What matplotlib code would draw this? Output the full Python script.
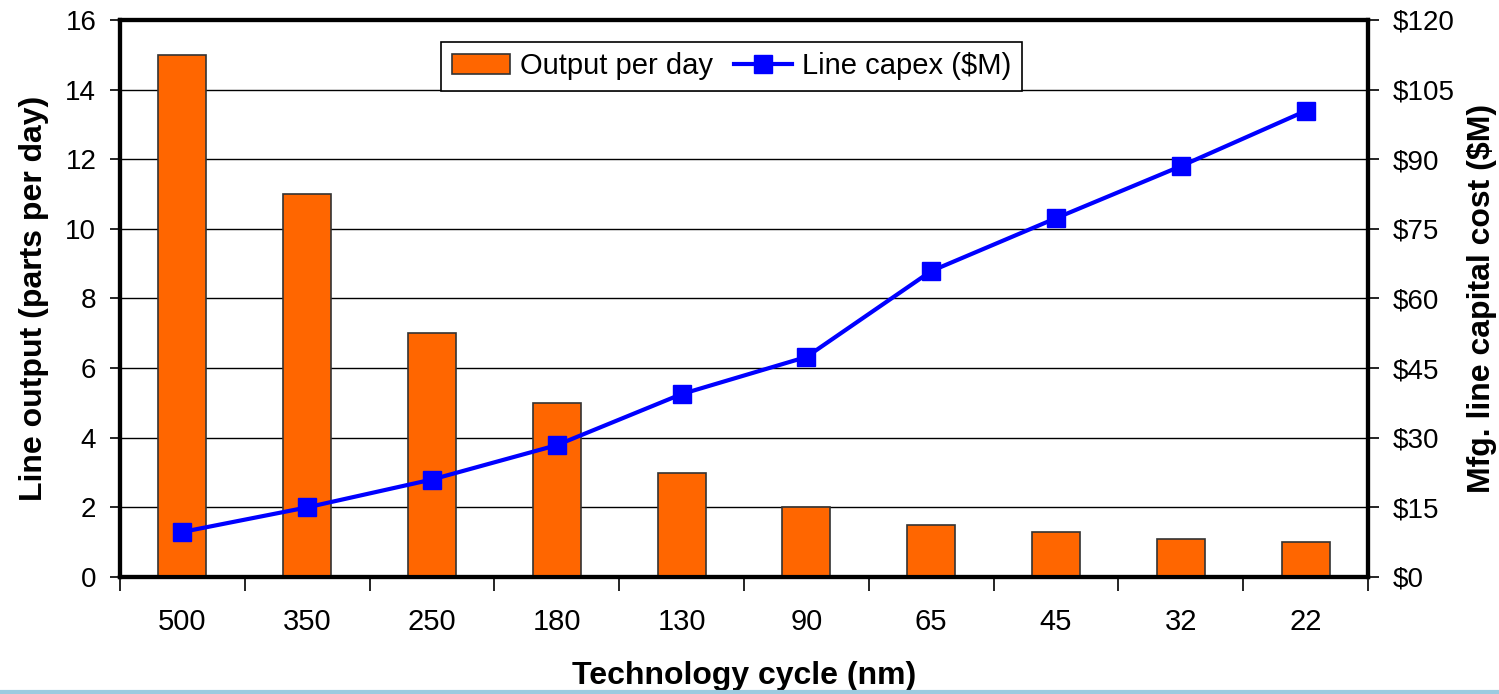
import matplotlib.pyplot as plt
from matplotlib.lines import Line2D
import numpy as np

plt.rcParams['font.family'] = ['Liberation Sans', 'DejaVu Sans']

# node sizes, parts per day, and line capital cost in $M
nodes = ['500', '350', '250', '180', '130', '90', '65', '45', '32', '22']
output_per_day = [15, 11, 7, 5, 3, 2, 1.5, 1.3, 1.1, 1.0]
line_capex = [9.7, 15, 21, 28.4, 39.4, 47.4, 65.9, 77.3, 88.5, 100.4]

x = np.arange(len(nodes))

fig = plt.figure(figsize=(14.99, 6.94), dpi=100)
ax = fig.add_axes([0.080, 0.1686, 0.8326, 0.8026])
ax2 = ax.twinx()

bars = ax.bar(x, output_per_day, width=0.385, color='#FF6600',
              edgecolor='#333333', linewidth=1.2, zorder=3, label='Output per day')
line, = ax2.plot(x, line_capex, color='#0000FF', lw=3, marker='s', markersize=13,
                 label='Line capex ($M)', zorder=4)

ax.set_xlim(-0.5, len(nodes) - 0.5)
ax.set_ylim(0, 16)
ax.set_yticks(np.arange(0, 17, 2))
ax2.set_ylim(0, 120)
ax2.set_yticks(np.arange(0, 121, 15))
ax2.set_yticklabels(['$%d' % v for v in range(0, 121, 15)])

ax.yaxis.grid(True, color='black', linewidth=1.0, zorder=0)
ax.set_axisbelow(True)

# categories between tick marks
ax.set_xticks(np.arange(-0.5, len(nodes), 1.0))
ax.set_xticklabels([])
ax.set_xticks(x, minor=True)
ax.set_xticklabels(nodes, minor=True)
ax.tick_params(axis='x', which='major', direction='out', length=10, width=1.2)
ax.tick_params(axis='x', which='minor', length=0, pad=22, labelsize=21)
ax.tick_params(axis='y', direction='out', length=7, width=1.2, pad=10, labelsize=20)
ax2.tick_params(axis='y', direction='out', length=8, width=1.2, pad=10, labelsize=20)

for a in (ax, ax2):
    for s in a.spines.values():
        s.set_linewidth(3)
        s.set_color('black')

ax.set_xlabel('Technology cycle (nm)', fontsize=23, fontweight='bold', labelpad=18)
ax.set_ylabel('Line output (parts per day)', fontsize=23, fontweight='bold', labelpad=12)
ax2.set_ylabel('Mfg. line capital cost ($M)', fontsize=23, fontweight='bold', labelpad=9)

leg = ax.legend([bars, line], ['Output per day', 'Line capex ($M)'], ncol=2,
                loc='upper center', bbox_to_anchor=(0.49, 0.96), fontsize=21,
                frameon=True, fancybox=False, edgecolor='black', framealpha=1,
                handlelength=2.0, handletextpad=0.35, columnspacing=0.7,
                borderpad=0.35, borderaxespad=0)
leg.get_frame().set_linewidth(1.2)
leg.set_zorder(10)

# faint slide edge along the bottom
fig.add_artist(Line2D([0, 1], [0.003, 0.003], transform=fig.transFigure,
                      color='#9ccbe0', linewidth=3))

fig.savefig('out.png', dpi=100)
